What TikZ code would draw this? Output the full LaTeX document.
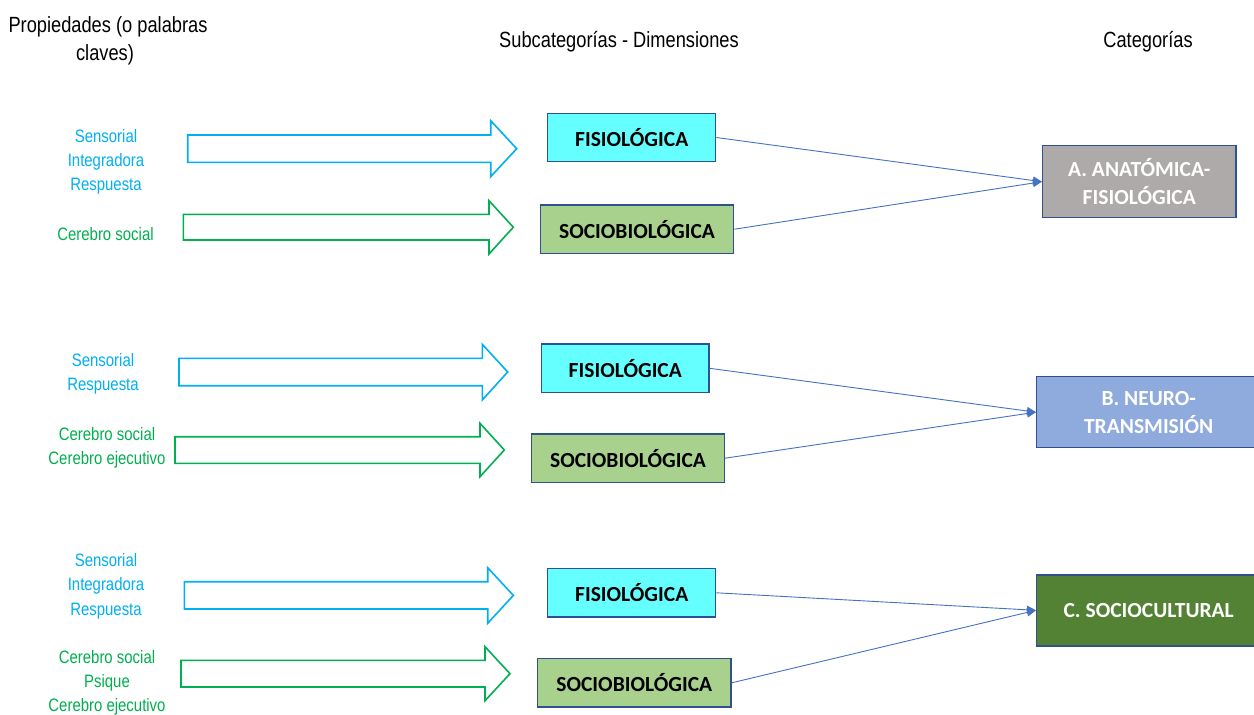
\documentclass[tikz,border=0pt]{standalone}
\usepackage{fontspec}
\setmainfont{Liberation Sans}[FakeStretch=0.83]
\newfontfamily\boxfont{Carlito}
\usetikzlibrary{arrows.meta}
\definecolor{propblue}{HTML}{00B0F0}
\definecolor{propgreen}{HTML}{00B050}
\definecolor{fisfill}{HTML}{66FFFF}
\definecolor{socfill}{HTML}{A9D18E}
\definecolor{catafill}{HTML}{AEAAAA}
\definecolor{catbfill}{HTML}{8FAADC}
\definecolor{catcfill}{HTML}{548235}
\definecolor{bordc}{HTML}{2F528F}
\definecolor{connc}{HTML}{4472C4}
\newcommand{\blkarrow}[9]{%
  \draw[blk,draw=#1] (#2,#3) -- (#5,#3) -- (#5,#6) -- (#8,#9) -- (#5,#7) -- (#5,#4) -- (#2,#4) -- cycle;}
\begin{document}
\begin{tikzpicture}[x=1pt,y=-1pt,
  hdr/.style={anchor=base,inner sep=0,font=\fontsize{22}{22}\selectfont},
  lbl/.style={anchor=base,inner sep=0,font=\fontsize{18}{18}\selectfont},
  lblb/.style={lbl,text=propblue},
  lblg/.style={lbl,text=propgreen},
  sub/.style={draw=bordc,line width=1.4pt,minimum height=48.4pt,inner sep=0,
    font=\boxfont\bfseries\fontsize{21.5}{21.5}\selectfont},
  fis/.style={sub,fill=fisfill,minimum width=168pt},
  soc/.style={sub,fill=socfill,minimum width=193.5pt},
  cat/.style={draw=bordc,line width=1.4pt,minimum height=71pt,inner sep=0,align=center,
    text=white,font=\boxfont\bfseries\fontsize{21.5}{28}\selectfont},
  blk/.style={line width=1.6pt,fill=white,line join=miter},
  conn/.style={draw=connc,line width=0.9pt,-{Triangle[length=9pt,width=8pt]}}]
\useasboundingbox (0,0) rectangle (1254,715);
\fill[white] (0,0) rectangle (1254,715);

% headers
\node[hdr] (h1a) at (108,32.7) {Propiedades (o palabras};
\node[hdr] (h1b) at (105,60) {claves)};
\node[hdr] (h2) at (619,47) {Subcategorías - Dimensiones};
\node[hdr] (h3) at (1148,47) {Categorías};

% group 1 texts
\node[lblb] (t1a) at (106,142.7) {Sensorial};
\node[lblb] (t1b) at (106,166.7) {Integradora};
\node[lblb] (t1c) at (106,190.7) {Respuesta};
\node[lblg] (t1d) at (105.5,240.7) {Cerebro social};
% group 2 texts
\node[lblb] (t2a) at (103,366.5) {Sensorial};
\node[lblb] (t2b) at (103,390.5) {Respuesta};
\node[lblg] (t2c) at (107,440.5) {Cerebro social};
\node[lblg] (t2d) at (107,464.5) {Cerebro ejecutivo};
% group 3 texts
\node[lblb] (t3a) at (106,566) {Sensorial};
\node[lblb] (t3b) at (106,590.5) {Integradora};
\node[lblb] (t3c) at (106,615) {Respuesta};
\node[lblg] (t3d) at (107,663.3) {Cerebro social};
\node[lblg] (t3e) at (107,687.5) {Psique};
\node[lblg] (t3f) at (107,711.7) {Cerebro ejecutivo};

% block arrows
\blkarrow{propblue}{187.7}{135}{162.3}{490.7}{120.7}{176.7}{516.7}{148.7}
\blkarrow{propgreen}{183.3}{214.3}{240}{489}{200.7}{254}{513.3}{227.2}
\blkarrow{propblue}{179}{358.3}{385.7}{482.3}{344.3}{400}{507.7}{372}
\blkarrow{propgreen}{175}{436.7}{463.3}{480}{423.3}{476.7}{504.3}{450}
\blkarrow{propblue}{184.3}{581.7}{609}{487.7}{567.7}{623.3}{513.3}{595.4}
\blkarrow{propgreen}{181}{660.3}{687}{485}{646.7}{700.7}{510}{673.7}

% subcategory boxes
\node[fis] (fis1) at (631.7,137.5) {FISIOLÓGICA};
\node[soc] (soc1) at (637,229.2) {SOCIOBIOLÓGICA};
\node[fis,minimum width=167.3pt] (fis2) at (625.3,368.3) {FISIOLÓGICA};
\node[soc,minimum width=192.6pt] (soc2) at (628,458.2) {SOCIOBIOLÓGICA};
\node[fis] (fis3) at (631.7,592.8) {FISIOLÓGICA};
\node[soc] (soc3) at (634.3,682.8) {SOCIOBIOLÓGICA};

% categories
\node[cat,fill=catafill,minimum width=193.3pt,minimum height=72pt] (catA) at (1139.3,181.7) {A. ANATÓMICA-\\FISIOLÓGICA};
\node[cat,fill=catbfill,minimum width=224pt] (catB) at (1148.7,412.2) {B. NEURO-\\TRANSMISIÓN};
\node[cat,fill=catcfill,minimum width=224pt] (catC) at (1148.7,610.3) {C. SOCIOCULTURAL};

% connectors
\draw[conn] (fis1.east) -- (catA.west);
\draw[conn] (soc1.east) -- (catA.west);
\draw[conn] (fis2.east) -- (catB.west);
\draw[conn] (soc2.east) -- (catB.west);
\draw[conn] (fis3.east) -- (catC.west);
\draw[conn] (soc3.east) -- (catC.west);
\end{tikzpicture}
\end{document}
